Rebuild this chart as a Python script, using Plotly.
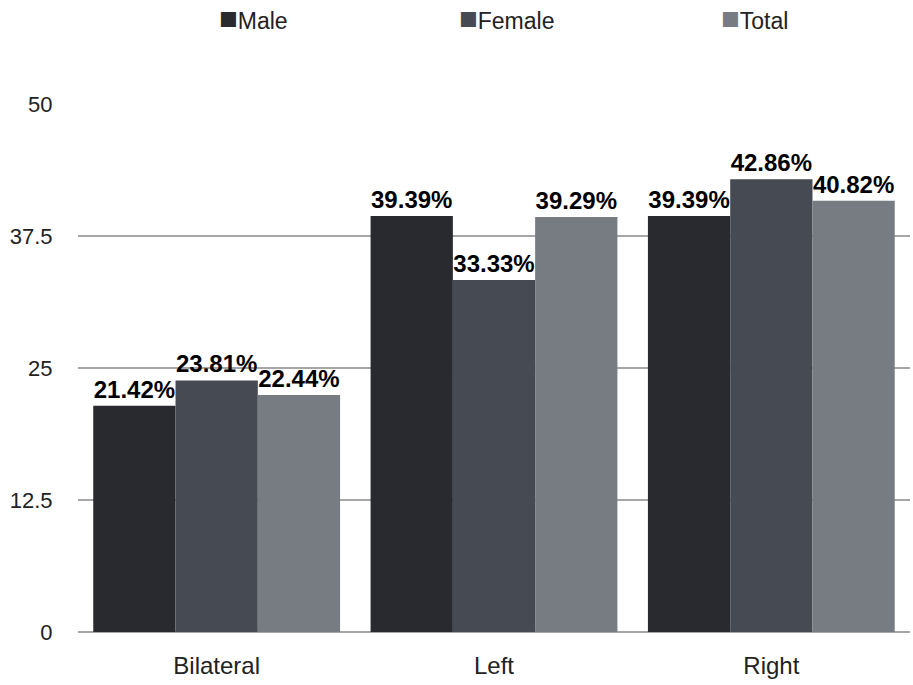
import plotly.graph_objects as go

# Side of involvement, share of cases (%) by sex
categories = ["Bilateral", "Left", "Right"]
male = [21.42, 39.39, 39.39]
female = [23.81, 33.33, 42.86]
total = [22.44, 39.29, 40.82]
series_names = ["Male", "Female", "Total"]
series_colors = ["#282a2f", "#464a53", "#777b82"]
y_ticks = [0, 12.5, 25, 37.5, 50]

FONT = "Liberation Sans, Arial, sans-serif"

fig = go.Figure()
for name, vals, col in zip(series_names, [male, female, total], series_colors):
    fig.add_trace(go.Bar(
        x=categories, y=vals, name=name,
        marker=dict(color=col, line=dict(width=0)),
        text=[f"{v:.2f}%" for v in vals],
        textposition="outside",
        textfont=dict(family=FONT, size=24, color="#000000"),
        texttemplate="<b>%{text}</b>",
        constraintext="none",
        cliponaxis=False,
        showlegend=False,
    ))

# Compact legend row: coloured square directly followed by the series name
legend_x = [0.167, 0.455, 0.771]
for name, col, lx in zip(series_names, series_colors, legend_x):
    fig.add_annotation(
        xref="paper", yref="paper", x=lx, y=1.160, xanchor="left", yanchor="middle",
        text=f"<span style='color:{col};font-size:31px'>■</span>{name}",
        showarrow=False, font=dict(family=FONT, size=23, color="#222222"),
    )

fig.update_layout(
    width=913, height=685,
    margin=dict(l=78, r=3, t=103, b=53),
    paper_bgcolor="white", plot_bgcolor="white",
    barmode="group", bargap=0.11, bargroupgap=0,
    font=dict(family=FONT, color="#222222"),
    xaxis=dict(
        showgrid=False, zeroline=False, showline=False, automargin=False,
        ticks="outside", ticklen=12, tickcolor="rgba(0,0,0,0)",
        tickfont=dict(size=24, color="#222222"),
    ),
    yaxis=dict(
        range=[0, 50.08], tickvals=y_ticks, ticktext=["0", "12.5", "25", "37.5", "50"],
        showgrid=True, gridcolor="#a6a6a6", gridwidth=2,
        zeroline=True, zerolinecolor="#a6a6a6", zerolinewidth=2,
        showline=False, automargin=False,
        ticks="outside", ticklen=20, tickcolor="rgba(0,0,0,0)",
        tickfont=dict(size=22, color="#222222"),
    ),
)

fig.write_html("out.html")
